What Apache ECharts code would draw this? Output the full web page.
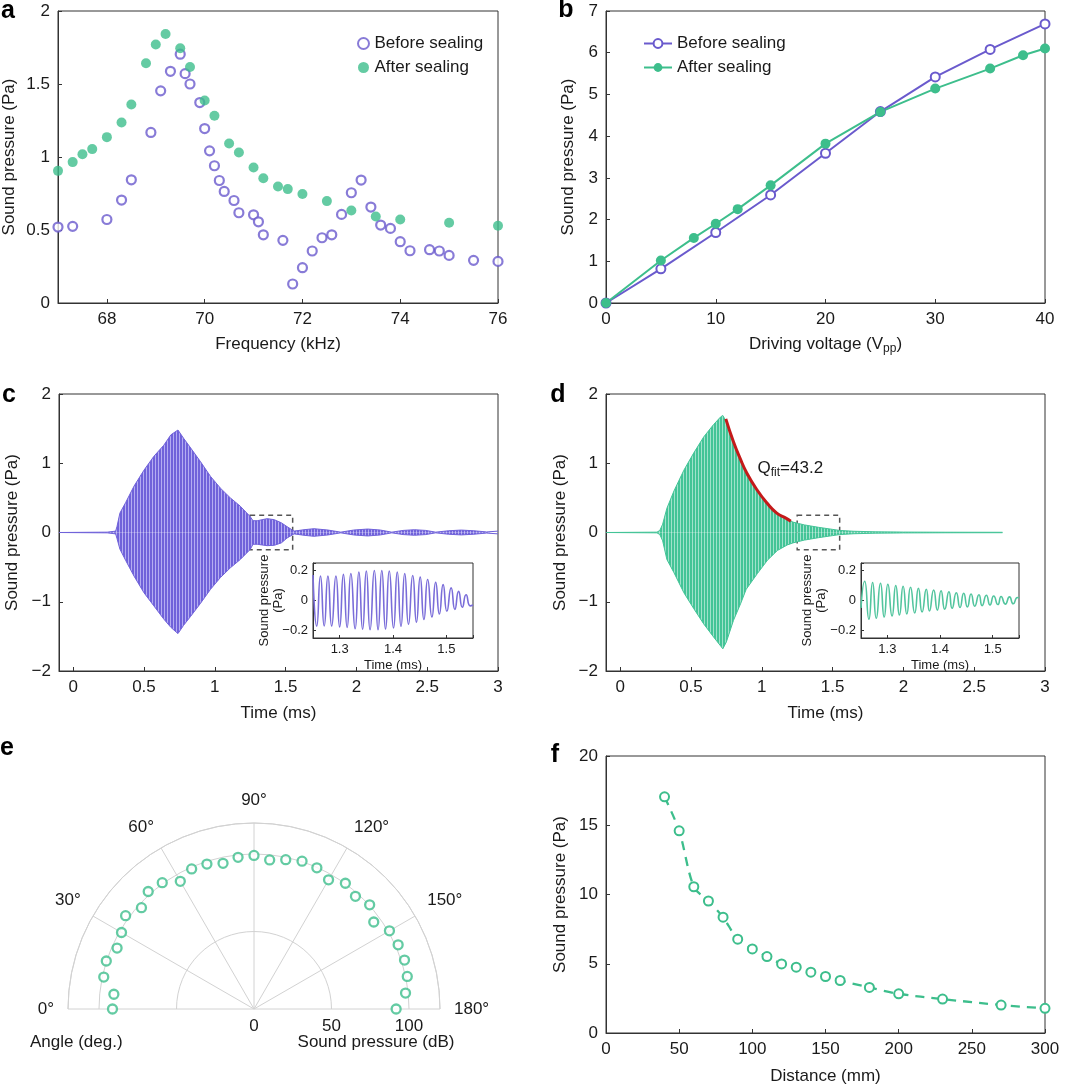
<!DOCTYPE html>
<html>
<head>
<meta charset="utf-8">
<script src="https://cdn.jsdelivr.net/npm/echarts@6/dist/echarts.min.js"></script>
<style>
  html, body { margin: 0; padding: 0; background: #fff; }
  #chart { width: 1080px; height: 1088px; }
</style>
</head>
<body>
<div id="chart"></div>
<script>
// ---- a: frequency sweep ----
const freqBefore = [67.0, 67.3, 68.0, 68.3, 68.5, 68.9, 69.1, 69.3, 69.5, 69.6, 69.7, 69.9, 70.0, 70.1, 70.2, 70.3, 70.4, 70.6, 70.7, 71.0, 71.1, 71.2, 71.6, 71.8, 72.0, 72.2, 72.4, 72.6, 72.8, 73.0, 73.2, 73.4, 73.6, 73.8, 74.0, 74.2, 74.6, 74.8, 75.0, 75.5, 76.0];
const pressBefore = [0.52, 0.525, 0.572, 0.705, 0.844, 1.168, 1.453, 1.587, 1.704, 1.571, 1.50, 1.373, 1.195, 1.042, 0.94, 0.839, 0.764, 0.702, 0.618, 0.604, 0.556, 0.467, 0.429, 0.13, 0.242, 0.356, 0.447, 0.467, 0.607, 0.755, 0.842, 0.657, 0.534, 0.511, 0.42, 0.358, 0.365, 0.356, 0.326, 0.292, 0.285];
const freqAfter = [67.0, 67.3, 67.5, 67.7, 68.0, 68.3, 68.5, 68.8, 69.0, 69.2, 69.5, 69.7, 70.0, 70.2, 70.5, 70.7, 71.0, 71.2, 71.5, 71.7, 72.0, 72.5, 73.0, 73.5, 74.0, 75.0, 76.0];
const pressAfter = [0.905, 0.965, 1.019, 1.054, 1.136, 1.236, 1.359, 1.642, 1.77, 1.843, 1.745, 1.617, 1.387, 1.282, 1.092, 1.031, 0.928, 0.855, 0.798, 0.78, 0.746, 0.698, 0.634, 0.593, 0.572, 0.55, 0.529];

// ---- b: driving voltage ----
const voltBefore = [0, 5, 10, 15, 20, 25, 30, 35, 40];
const pressVBefore = [0, 0.82, 1.69, 2.59, 3.59, 4.59, 5.42, 6.08, 6.69];
const voltAfter = [0, 5, 8, 10, 12, 15, 20, 25, 30, 35, 38, 40];
const pressVAfter = [0, 1.02, 1.56, 1.9, 2.25, 2.82, 3.82, 4.58, 5.14, 5.62, 5.94, 6.1];

// ---- c: burst before sealing (envelope) ----
const timeC = [-0.1, 0.24, 0.30, 0.31, 0.33, 0.37, 0.43, 0.50, 0.57, 0.64, 0.69, 0.74, 0.78, 0.83, 0.90, 0.97, 1.04, 1.11, 1.18, 1.25, 1.27, 1.30, 1.37, 1.42, 1.47, 1.51, 1.56, 1.63, 1.70, 1.80, 1.89, 1.98, 2.08, 2.17, 2.25, 2.33, 2.41, 2.49, 2.56, 2.65, 2.74, 2.83, 2.92, 3.0];
const upperC = [0, 0.005, 0.02, 0.09, 0.28, 0.43, 0.67, 0.90, 1.10, 1.26, 1.41, 1.48, 1.36, 1.22, 1.02, 0.81, 0.64, 0.50, 0.38, 0.23, 0.17, 0.17, 0.20, 0.185, 0.14, 0.085, 0.02, 0.04, 0.055, 0.035, 0.005, 0.035, 0.05, 0.035, 0.005, 0.03, 0.04, 0.03, 0.005, 0.025, 0.035, 0.025, 0.008, 0.02];
const lowerC = [0, -0.005, -0.02, -0.09, -0.24, -0.40, -0.63, -0.87, -1.06, -1.25, -1.37, -1.46, -1.34, -1.21, -1.02, -0.82, -0.65, -0.51, -0.39, -0.245, -0.17, -0.17, -0.19, -0.185, -0.15, -0.08, -0.02, -0.04, -0.055, -0.035, -0.005, -0.035, -0.05, -0.035, -0.005, -0.03, -0.04, -0.03, -0.005, -0.025, -0.035, -0.025, -0.008, -0.02];
// inset c: peaks and troughs
const insetTimeC = [1.25, 1.257, 1.264, 1.271, 1.278, 1.285, 1.293, 1.300, 1.307, 1.314, 1.321, 1.329, 1.336, 1.343, 1.350, 1.357, 1.365, 1.372, 1.379, 1.386, 1.393, 1.401, 1.408, 1.415, 1.422, 1.429, 1.437, 1.444, 1.451, 1.458, 1.465, 1.473, 1.480, 1.487, 1.494, 1.501, 1.509, 1.516, 1.523, 1.530, 1.537, 1.545, 1.55];
const insetPressC = [0.17, -0.172, 0.163, -0.17, 0.163, -0.17, 0.163, -0.176, 0.174, -0.18, 0.18, -0.188, 0.19, -0.192, 0.197, -0.195, 0.2, -0.195, 0.2, -0.19, 0.197, -0.183, 0.19, -0.172, 0.18, -0.158, 0.167, -0.145, 0.156, -0.127, 0.14, -0.109, 0.122, -0.09, 0.106, -0.072, 0.084, -0.059, 0.061, -0.045, 0.038, -0.036, -0.03];

// ---- d: burst after sealing ----
const timeD = [-0.1, 0.26, 0.28, 0.30, 0.33, 0.38, 0.45, 0.52, 0.59, 0.66, 0.71, 0.725, 0.75, 0.80, 0.85, 0.89, 0.97, 1.04, 1.11, 1.18, 1.22, 1.26, 1.30, 1.40, 1.50, 1.55, 1.65, 1.80, 2.00, 2.30, 2.70];
const upperD = [0, 0.005, 0.03, 0.12, 0.35, 0.60, 0.90, 1.15, 1.38, 1.56, 1.67, 1.69, 1.60, 1.28, 1.04, 0.83, 0.60, 0.41, 0.27, 0.19, 0.15, 0.13, 0.11, 0.075, 0.045, 0.03, 0.018, 0.01, 0.006, 0.004, 0.003];
const lowerD = [0, -0.005, -0.03, -0.12, -0.39, -0.58, -0.87, -1.10, -1.32, -1.51, -1.64, -1.68, -1.58, -1.27, -1.03, -0.82, -0.59, -0.40, -0.26, -0.18, -0.15, -0.13, -0.11, -0.075, -0.045, -0.03, -0.018, -0.01, -0.006, -0.004, -0.003];
const fitTime = [0.746, 0.80, 0.847, 0.894, 0.965, 1.035, 1.106, 1.176, 1.205];
const fitPress = [1.64, 1.31, 1.07, 0.86, 0.62, 0.43, 0.28, 0.20, 0.163];
const insetTimeD = [1.25, 1.257, 1.265, 1.272, 1.279, 1.287, 1.294, 1.301, 1.309, 1.316, 1.323, 1.330, 1.337, 1.344, 1.352, 1.359, 1.366, 1.374, 1.380, 1.388, 1.395, 1.402, 1.409, 1.417, 1.423, 1.431, 1.438, 1.445, 1.452, 1.459, 1.466, 1.474, 1.480, 1.488, 1.495, 1.502, 1.510, 1.516, 1.524, 1.532, 1.539, 1.547, 1.55];
const insetPressD = [-0.05, 0.128, -0.125, 0.12, -0.118, 0.115, -0.11, 0.108, -0.103, 0.1, -0.097, 0.095, -0.09, 0.088, -0.083, 0.082, -0.077, 0.075, -0.07, 0.07, -0.064, 0.065, -0.058, 0.058, -0.052, 0.052, -0.047, 0.048, -0.043, 0.043, -0.038, 0.038, -0.034, 0.035, -0.03, 0.03, -0.027, 0.027, -0.024, 0.024, -0.022, 0.02, 0.015];
const zoomTime = [1.25, 1.55];
const zoomPress = [-0.25, 0.25];
const qFitText = 'Q{s|fit}=43.2';
const qFitAt = [0.97, 0.93];

// ---- e: directivity ----
const anglesE = [0, 6, 12, 18, 24, 30, 36, 42, 48, 54, 60, 66, 72, 78, 84, 90, 96, 102, 108, 114, 120, 126, 132, 138, 144, 150, 156, 162, 168, 174, 180];
const splE = [91.3, 90.9, 99.1, 100.2, 96.7, 98.7, 102.4, 97.7, 102.0, 100.7, 95.1, 98.9, 98.3, 96.1, 98.4, 99.1, 96.7, 98.5, 100.3, 99.7, 96.2, 100.3, 97.8, 100.4, 95.5, 100.9, 101.8, 102.1, 101.1, 98.3, 91.7];

// ---- f: distance ----
const distance = [40, 50, 60, 70, 80, 90, 100, 110, 120, 130, 140, 150, 160, 180, 200, 230, 270, 300];
const pressDist = [17.05, 14.6, 10.56, 9.53, 8.36, 6.77, 6.07, 5.52, 4.99, 4.75, 4.39, 4.08, 3.79, 3.29, 2.83, 2.45, 2.02, 1.78];

const FONT = '"Liberation Sans", Arial, Helvetica, sans-serif';
const TXT = '#1a1a1a';
const PURPLE = '#6a5acd';
const GREEN = '#3dbe8c';
const LINE_C = '#7062da';
const LINE_D = '#43c497';
const POLAR_GRID = '#d2d2d2';

const zip = (xs, ys) => xs.map((x, i) => [x, ys[i]]);
const minus = v => String(v).replace('-', '\u2212');
// only label values that sit on the given step
const stepLabel = step => v => {
  const k = v / step;
  return Math.abs(k - Math.round(k)) < 1e-6 ? minus(+v.toFixed(4)) : '';
};

// thin vertical stripes, so the dense carrier reads like the scope trace
const stripes = (dark, light) => {
  const c = document.createElement('canvas');
  c.width = 3; c.height = 4;
  const g = c.getContext('2d');
  g.fillStyle = dark; g.fillRect(0, 0, 3, 4);
  g.fillStyle = light; g.fillRect(2, 0, 1, 4);
  return { image: c, repeat: 'repeat' };
};
const FILL_C = stripes(LINE_C, '#b4acf2');
const FILL_D = stripes(LINE_D, '#a0e2cb');

const gridBox = (left, top, width, height) => ({
  left, top, width, height, show: true, borderColor: '#333', borderWidth: 1,
  outerBoundsMode: 'none', containLabel: false
});

const axisBase = (gridIndex, small) => ({
  type: 'value', gridIndex,
  axisLine: { show: true, onZero: false, lineStyle: { color: '#333', width: 1 } },
  axisTick: { show: true, inside: true, length: small ? 3 : 4, lineStyle: { color: '#333' } },
  axisLabel: { color: TXT, fontSize: small ? 13 : 17, fontFamily: FONT, margin: small ? 5 : 8, formatter: minus },
  splitLine: { show: false },
  nameLocation: 'middle',
  nameMoveOverlap: false,
  nameTextStyle: { color: TXT, fontSize: small ? 13 : 17, fontFamily: FONT, lineHeight: small ? 14 : 22,
    rich: { s: { fontSize: small ? 9 : 12, fontFamily: FONT, color: TXT, verticalAlign: 'bottom', lineHeight: 13 } } }
});

const xAx = (gridIndex, o, small) => {
  const a = axisBase(gridIndex, small);
  Object.assign(a, o);
  if (o.labelStep) a.axisLabel = Object.assign({}, a.axisLabel, { formatter: stepLabel(o.labelStep) });
  delete a.labelStep;
  return a;
};
const yAx = (gridIndex, o, small) => {
  const a = xAx(gridIndex, o, small);
  a.nameRotate = 90;
  return a;
};

const option = {
  animation: false,
  backgroundColor: '#fff',
  textStyle: { fontFamily: FONT },
  grid: [
    gridBox(58, 11, 440, 292),    // a
    gridBox(606, 11, 439, 292),   // b
    gridBox(59, 394, 439, 277),   // c
    gridBox(606, 394, 439, 277),  // d
    gridBox(313, 563, 160, 75),   // c inset
    gridBox(861, 563, 158, 75),   // d inset
    gridBox(606, 756, 439, 277),  // f
    Object.assign(gridBox(254, 1009, 186, 1), { show: false }) // e radius labels
  ],
  xAxis: [
    xAx(0, { min: 67, max: 76, labelStep: 2, name: 'Frequency (kHz)', nameGap: 30 }),
    xAx(1, { min: 0, max: 40, interval: 10, name: 'Driving voltage (V{s|pp})', nameGap: 30 }),
    xAx(2, { min: -0.1, max: 3, labelStep: 0.5, name: 'Time (ms)', nameGap: 31 }),
    xAx(3, { min: -0.1, max: 3, labelStep: 0.5, name: 'Time (ms)', nameGap: 31 }),
    xAx(4, { min: zoomTime[0], max: zoomTime[1], splitNumber: 3, labelStep: 0.1, name: 'Time (ms)', nameGap: 20 }, true),
    xAx(5, { min: zoomTime[0], max: zoomTime[1], splitNumber: 3, labelStep: 0.1, name: 'Time (ms)', nameGap: 20 }, true),
    xAx(6, { min: 0, max: 300, interval: 50, name: 'Distance (mm)', nameGap: 32 }),
    xAx(7, { min: 0, max: 120, interval: 50, labelStep: 50, axisLine: { show: false }, axisTick: { show: false } })
  ],
  yAxis: [
    yAx(0, { min: 0, max: 2, interval: 0.5, name: 'Sound pressure (Pa)', nameGap: 38 }),
    yAx(1, { min: 0, max: 7, interval: 1, name: 'Sound pressure (Pa)', nameGap: 27 }),
    yAx(2, { min: -2, max: 2, interval: 1, name: 'Sound pressure (Pa)', nameGap: 36 }),
    yAx(3, { min: -2, max: 2, interval: 1, name: 'Sound pressure (Pa)', nameGap: 35 }),
    yAx(4, { min: zoomPress[0], max: zoomPress[1], splitNumber: 3, labelStep: 0.1, name: 'Sound pressure\n(Pa)', nameGap: 28 }, true),
    yAx(5, { min: zoomPress[0], max: zoomPress[1], splitNumber: 3, labelStep: 0.1, name: 'Sound pressure\n(Pa)', nameGap: 33 }, true),
    yAx(6, { min: 0, max: 20, interval: 5, name: 'Sound pressure (Pa)', nameGap: 35 }),
    { type: 'value', gridIndex: 7, show: false, min: 0, max: 1 }
  ],
  polar: { center: [254, 1009], radius: 186 },
  angleAxis: {
    type: 'value', min: 0, max: 180, interval: 30,
    startAngle: 180, endAngle: 0, clockwise: true,
    axisLine: { show: true, lineStyle: { color: POLAR_GRID, width: 1 } },
    axisTick: { show: false },
    axisLabel: { color: TXT, fontSize: 17, fontFamily: FONT, margin: 14, formatter: '{value}°' },
    splitLine: { show: true, lineStyle: { color: POLAR_GRID, width: 1 } }
  },
  radiusAxis: {
    type: 'value', min: 0, max: 120, interval: 50,
    axisLine: { show: false }, axisTick: { show: false }, axisLabel: { show: false },
    splitLine: { show: true, lineStyle: { color: POLAR_GRID, width: 1 } }
  },
  legend: [
    {
      left: 352, top: 30, orient: 'vertical', itemGap: 7, itemWidth: 12, itemHeight: 11,
      selectedMode: false, formatter: n => n.slice(2),
      textStyle: { color: TXT, fontSize: 17, fontFamily: FONT },
      data: ['a-Before sealing', 'a-After sealing']
    },
    {
      left: 638, top: 30, orient: 'vertical', itemGap: 7, itemWidth: 28, itemHeight: 11,
      selectedMode: false, formatter: n => n.slice(2),
      textStyle: { color: TXT, fontSize: 17, fontFamily: FONT },
      data: ['b-Before sealing', 'b-After sealing']
    }
  ],
  graphic: [
    ['a', 8, 11], ['b', 566, 10], ['c', 9, 395], ['d', 558, 395], ['e', 7, 748], ['f', 555, 755]
  ].map(([t, x, y]) => ({
    type: 'text', x, y, silent: true,
    style: { text: t, font: 'bold 25px ' + FONT, fill: '#000', align: 'center', verticalAlign: 'middle' }
  })).concat([
    { type: 'text', x: 30, y: 1042, silent: true,
      style: { text: 'Angle (deg.)', font: '17px ' + FONT, fill: TXT, align: 'left', verticalAlign: 'middle' } },
    { type: 'text', x: 376, y: 1042, silent: true,
      style: { text: 'Sound pressure (dB)', font: '17px ' + FONT, fill: TXT, align: 'center', verticalAlign: 'middle' } }
  ]),
  series: [
    // a
    { name: 'a-Before sealing', type: 'scatter', xAxisIndex: 0, yAxisIndex: 0,
      data: zip(freqBefore, pressBefore), symbol: 'circle', symbolSize: 9,
      itemStyle: { color: '#fff', borderColor: PURPLE, borderWidth: 2.2 } },
    { name: 'a-After sealing', type: 'scatter', xAxisIndex: 0, yAxisIndex: 0,
      data: zip(freqAfter, pressAfter), symbol: 'circle', symbolSize: 10,
      itemStyle: { color: GREEN } },
    // b
    { name: 'b-Before sealing', type: 'line', xAxisIndex: 1, yAxisIndex: 1,
      data: zip(voltBefore, pressVBefore), symbol: 'circle', symbolSize: 9, showSymbol: true,
      lineStyle: { color: PURPLE, width: 2 },
      itemStyle: { color: '#fff', borderColor: PURPLE, borderWidth: 2 } },
    { name: 'b-After sealing', type: 'line', xAxisIndex: 1, yAxisIndex: 1,
      data: zip(voltAfter, pressVAfter), symbol: 'circle', symbolSize: 10, showSymbol: true,
      lineStyle: { color: GREEN, width: 2 },
      itemStyle: { color: GREEN, borderColor: GREEN, borderWidth: 0 } },
    // c: envelope band
    { type: 'line', xAxisIndex: 2, yAxisIndex: 2, data: zip(timeC, upperC), symbol: 'none',
      lineStyle: { color: LINE_C, width: 1 }, areaStyle: { color: FILL_C, opacity: 1 },
      markArea: { silent: true,
        itemStyle: { color: 'rgba(0,0,0,0)', borderColor: '#555', borderWidth: 1.5, borderType: [5, 4] },
        data: [[{ coord: [zoomTime[0], zoomPress[1]] }, { coord: [zoomTime[1], zoomPress[0]] }]] } },
    { type: 'line', xAxisIndex: 2, yAxisIndex: 2, data: zip(timeC, lowerC), symbol: 'none',
      lineStyle: { color: LINE_C, width: 1 }, areaStyle: { color: FILL_C, opacity: 1 } },
    // d: envelope band + fit
    { type: 'line', xAxisIndex: 3, yAxisIndex: 3, data: zip(timeD, upperD), symbol: 'none',
      lineStyle: { color: LINE_D, width: 1 }, areaStyle: { color: FILL_D, opacity: 1 },
      markArea: { silent: true,
        itemStyle: { color: 'rgba(0,0,0,0)', borderColor: '#555', borderWidth: 1.5, borderType: [5, 4] },
        data: [[{ coord: [zoomTime[0], zoomPress[1]] }, { coord: [zoomTime[1], zoomPress[0]] }]] } },
    { type: 'line', xAxisIndex: 3, yAxisIndex: 3, data: zip(timeD, lowerD), symbol: 'none',
      lineStyle: { color: LINE_D, width: 1 }, areaStyle: { color: FILL_D, opacity: 1 } },
    { type: 'line', xAxisIndex: 3, yAxisIndex: 3, data: zip(fitTime, fitPress), symbol: 'none', smooth: true,
      lineStyle: { color: '#c41a1a', width: 3 }, z: 5,
      markPoint: { silent: true, symbol: 'circle', symbolSize: 0,
        data: [{ coord: qFitAt }],
        label: { show: true, position: 'right', distance: 0, formatter: qFitText, color: TXT,
          fontSize: 17, fontFamily: FONT, lineHeight: 22,
          rich: { s: { fontSize: 12, fontFamily: FONT, color: TXT, verticalAlign: 'bottom', lineHeight: 13 } } } } },
    // insets
    { type: 'line', xAxisIndex: 4, yAxisIndex: 4, data: zip(insetTimeC, insetPressC), symbol: 'none', smooth: 0.6,
      lineStyle: { color: '#7a6dd9', width: 1.6 } },
    { type: 'line', xAxisIndex: 5, yAxisIndex: 5, data: zip(insetTimeD, insetPressD), symbol: 'none', smooth: 0.6,
      lineStyle: { color: '#52c59e', width: 1.6 } },
    // e
    { type: 'scatter', coordinateSystem: 'polar', data: splE.map((r, i) => [r, anglesE[i]]),
      symbol: 'circle', symbolSize: 9, itemStyle: { color: '#fff', borderColor: GREEN, borderWidth: 2.3 } },
    // f
    { type: 'line', xAxisIndex: 6, yAxisIndex: 6, data: zip(distance, pressDist), smooth: 0.3,
      symbol: 'circle', symbolSize: 9, showSymbol: true,
      lineStyle: { color: GREEN, width: 2.3, type: [9, 7] },
      itemStyle: { color: '#fff', borderColor: GREEN, borderWidth: 2 } }
  ]
};

const chart = echarts.init(document.getElementById('chart'), null, { renderer: 'canvas' });
chart.setOption(option);
</script>
</body>
</html>
